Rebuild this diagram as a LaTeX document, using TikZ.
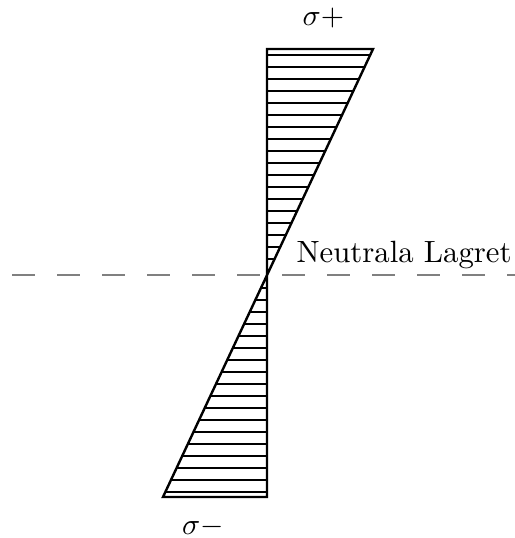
\documentclass[tikz,border=0pt]{standalone}
\begin{document}
\begin{tikzpicture}[x=0.33333pt,y=-0.33333pt,
  outline/.style={line width=0.8pt, line join=miter},
  hatch/.style={line width=0.4pt},
  axisline/.style={gray, line width=0.55pt, dash pattern=on 7.5pt off 7.5pt},
  lbl/.style={inner sep=0pt, font=\fontsize{10.25pt}{12pt}\selectfont}]
\useasboundingbox (0,0) rectangle (515,538);
\coordinate (O) at (267,273);
\coordinate (TL) at (267,49);
\coordinate (TR) at (373,49);
\coordinate (BL) at (163,497);
\coordinate (BR) at (267,497);
\coordinate (DL) at (12,275);
\coordinate (DR) at (520,275);
% neutral axis
\draw[axisline] (DL) -- (DR);
% hatching
\begin{scope}
  \clip (O) -- (TL) -- (TR) -- cycle;
  \foreach \y in {55,67,...,271} \draw[hatch] (150,\y) -- (400,\y);
\end{scope}
\begin{scope}
  \clip (O) -- (BR) -- (BL) -- cycle;
  \foreach \y in {492,480,...,276} \draw[hatch] (150,\y) -- (400,\y);
\end{scope}
% outline
\draw[outline] (TL) -- (TR) -- (BL) -- (BR) -- cycle;
% labels
\node[lbl] (sp) at (323.5,18) {$\sigma+$};
\node[lbl] (sm) at (203,527) {$\sigma-$};
\node[lbl, anchor=base west] (nl) at (296,262) {Neutrala Lagret};
\end{tikzpicture}
\end{document}
